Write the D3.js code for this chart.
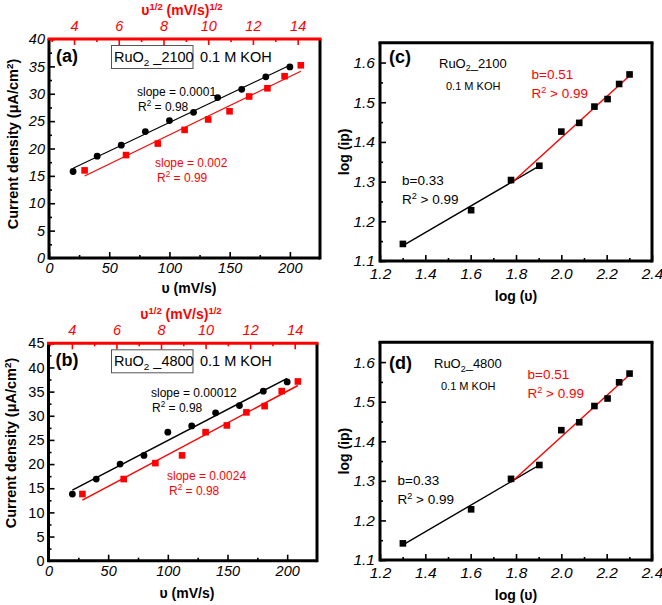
<!DOCTYPE html>
<html><head><meta charset="utf-8">
<script src="https://cdn.jsdelivr.net/npm/d3@7"></script>
<style>
body{margin:0;background:#fff;}
svg text{font-family:"Liberation Sans",Arial,Helvetica,sans-serif;}
</style></head><body>
<svg id="chart" width="662" height="605"></svg>
<script>
// ---------------- data ----------------
const scanRates = [20, 40, 60, 80, 100, 120, 140, 160, 180, 200];
const jA_black = [15.8, 18.6, 20.6, 23.1, 25.1, 26.6, 29.3, 30.8, 33.1, 34.9];
const jA_red   = [16.0, 18.8, 20.9, 23.4, 25.3, 26.8, 29.5, 31.0, 33.2, 35.2];
const jB_black = [13.8, 16.9, 20.0, 21.8, 26.6, 27.9, 30.6, 32.1, 35.1, 37.0];
const jB_red   = [13.8, 16.9, 20.2, 21.8, 26.6, 28.0, 30.7, 32.0, 35.1, 37.1];
const logScan  = [1.301, 1.602, 1.778, 1.903, 2.000, 2.079, 2.146, 2.204, 2.255, 2.301];
const logIpC   = [1.143, 1.228, 1.304, 1.340, 1.426, 1.448, 1.489, 1.508, 1.546, 1.570];
const logIpD   = [1.142, 1.228, 1.305, 1.340, 1.428, 1.448, 1.489, 1.508, 1.549, 1.571];

const scanTicks = [0, 50, 100, 150, 200];
const scanMinor = [25, 75, 125, 175];
const sqrtTicks = [4, 6, 8, 10, 12, 14];
const sqrtMinor = [3, 5, 7, 9, 11, 13];
const jTicksA = [0, 5, 10, 15, 20, 25, 30, 35, 40];
const jTicksB = [0, 5, 10, 15, 20, 25, 30, 35, 40, 45];
const logXTicks = [1.2, 1.4, 1.6, 1.8, 2.0, 2.2, 2.4];
const logXMinor = [1.3, 1.5, 1.7, 1.9, 2.1, 2.3];
const logYTicks = [1.1, 1.2, 1.3, 1.4, 1.5, 1.6];
const logYMinor = [1.15, 1.25, 1.35, 1.45, 1.55];

const RED = "#ff0000";
const svg = d3.select("#chart");

function fit(xs, ys) {
  const mx = d3.mean(xs), my = d3.mean(ys);
  const b = d3.sum(xs, (x, i) => (x - mx) * (ys[i] - my)) / d3.sum(xs, x => (x - mx) * (x - mx));
  return x => my + b * (x - mx);
}

// text with sub/superscripts: parts = [[str, "sup"|"sub"|null], ...]
function rich(g, x, y, parts, o) {
  const t = g.append("text").attr("x", x).attr("y", y)
    .attr("font-size", o.size).attr("fill", o.color || "#000")
    .attr("font-weight", o.weight || "normal")
    .attr("text-anchor", o.anchor || "start");
  if (o.transform) t.attr("transform", o.transform);
  let shift = 0;
  parts.forEach(([s, k]) => {
    const target = k === "sup" ? -0.38 * o.size : k === "sub" ? 0.25 * o.size : 0;
    const sp = t.append("tspan").text(s).attr("dy", target - shift);
    if (k) sp.attr("font-size", o.size * 0.68);
    shift = target;
  });
  return t;
}

function styleAxis(ax, color, italic, size) {
  ax.select(".domain").remove();
  ax.selectAll("line").attr("stroke", color).attr("stroke-width", 1.6);
  ax.selectAll("text").attr("fill", color).attr("font-size", size)
    .attr("font-style", italic ? "italic" : "normal").attr("font-family", '"Liberation Sans",Arial,sans-serif');
}

function frame(g, l, r, t, b, topColor) {
  const sw = 3;
  g.append("line").attr("x1", l).attr("x2", r).attr("y1", b).attr("y2", b).attr("stroke", "#000").attr("stroke-width", sw);
  g.append("line").attr("x1", l).attr("x2", l).attr("y1", t).attr("y2", b + 1.5).attr("stroke", "#000").attr("stroke-width", sw);
  g.append("line").attr("x1", r).attr("x2", r).attr("y1", t).attr("y2", b + 1.5).attr("stroke", "#000").attr("stroke-width", sw);
  g.append("line").attr("x1", l - 1.5).attr("x2", r + 1.5).attr("y1", t).attr("y2", t).attr("stroke", topColor).attr("stroke-width", sw);
}

// ---------------- panels (a), (b) ----------------
function cvPanel(p) {
  const g = svg.append("g");
  const x = d3.scaleLinear().domain([0, 225]).range([p.l, p.r]);
  const xt = d3.scaleLinear().domain(p.topDom).range([p.l, p.r]);
  const y = d3.scaleLinear().domain([0, p.yMax]).range([p.b, p.t]);
  const yMinor = p.yTicks.slice(0, -1).map((v, i) => (v + p.yTicks[i + 1]) / 2);

  // bottom axis
  let ax = g.append("g").attr("transform", `translate(0,${p.b})`)
    .call(d3.axisBottom(x).tickValues(scanTicks).tickSize(-6).tickPadding(5));
  styleAxis(ax, "#000", true, 14.5);
  ax = g.append("g").attr("transform", `translate(0,${p.b})`)
    .call(d3.axisBottom(x).tickValues(scanMinor).tickSize(-3).tickFormat(""));
  styleAxis(ax, "#000", true, 14);
  // left axis
  ax = g.append("g").attr("transform", `translate(${p.l},0)`)
    .call(d3.axisLeft(y).tickValues(p.yTicks).tickSize(-6).tickPadding(4));
  styleAxis(ax, "#000", p.yItalic, 14.5);
  ax = g.append("g").attr("transform", `translate(${p.l},0)`)
    .call(d3.axisLeft(y).tickValues(yMinor).tickSize(-3).tickFormat(""));
  styleAxis(ax, "#000", false, 14);
  // top axis (red)
  ax = g.append("g").attr("transform", `translate(0,${p.t})`)
    .call(d3.axisTop(xt).tickValues(sqrtTicks).tickSize(-6).tickPadding(8));
  styleAxis(ax, RED, true, 14.5);
  ax = g.append("g").attr("transform", `translate(0,${p.t})`)
    .call(d3.axisTop(xt).tickValues(sqrtMinor).tickSize(-3).tickFormat(""));
  styleAxis(ax, RED, true, 14);

  // fits
  const sq = scanRates.map(Math.sqrt);
  const fb = fit(scanRates, p.black), fr = fit(sq, p.red);
  const x0 = d3.min(scanRates), x1 = d3.max(scanRates);
  g.append("line").attr("x1", x(x0)).attr("x2", x(x1)).attr("y1", y(fb(x0))).attr("y2", y(fb(x1)))
    .attr("stroke", "#000").attr("stroke-width", p.lw);
  g.append("line").attr("x1", xt(Math.sqrt(x0))).attr("x2", xt(Math.sqrt(x1)))
    .attr("y1", y(fr(Math.sqrt(x0)))).attr("y2", y(fr(Math.sqrt(x1))))
    .attr("stroke", RED).attr("stroke-width", p.lw);

  // points
  g.selectAll(null).data(scanRates).join("circle")
    .attr("cx", d => x(d)).attr("cy", (d, i) => y(p.black[i])).attr("r", 3.4).attr("fill", "#000");
  g.selectAll(null).data(sq).join("rect")
    .attr("x", d => xt(d) - 3.3).attr("y", (d, i) => y(p.red[i]) - 3.3)
    .attr("width", 6.6).attr("height", 6.6).attr("fill", RED);

  frame(g, p.l, p.r, p.t, p.b, RED);

  // titles
  rich(g, p.xTitleX, p.b + p.xTitleDy, [["υ (mV/s)", null]], { size: 14, weight: "bold", anchor: "middle" });
  rich(g, p.topTitleX, p.t - 24, [["υ", null], ["1/2", "sup"], [" (mV/s)", null], ["1/2", "sup"]],
    { size: 14, weight: "bold", anchor: "middle", color: RED });
  rich(g, 0, 0, [["Current density (μA/cm", null], ["2", "sup"], [")", null]],
    { size: 14.5, weight: "bold", anchor: "middle", transform: `translate(${p.yTitleX},${p.yTitleY}) rotate(-90)` });

  // annotations
  g.append("text").attr("x", p.l + 7).attr("y", p.t + 23).attr("font-size", 18).attr("font-weight", "bold").text(p.label);
  g.append("rect").attr("x", 111.5).attr("y", p.t + 6.5).attr("width", 81.5).attr("height", 23)
    .attr("fill", "none").attr("stroke", "#555").attr("stroke-width", 1);
  rich(g, 114, p.t + 23, [["RuO", null], ["2", "sub"], [" _" + p.code, null]], { size: 14.5 });
  rich(g, 200, p.t + 23, [["0.1 M KOH", null]], { size: 14.5 });
  rich(g, p.sbX, p.sbY, [[p.sbText, null]], { size: 12 });
  rich(g, p.sbX + 1, p.sbY + 15, [["R", null], ["2", "sup"], [" = " + p.rb, null]], { size: 12 });
  rich(g, p.srX, p.srY, [[p.srText, null]], { size: 12, color: RED });
  rich(g, p.srX + 2, p.srY + 15, [["R", null], ["2", "sup"], [" = " + p.rr, null]], { size: 12, color: RED });
}

cvPanel({
  l: 49, r: 320, t: 39, b: 258, yMax: 40, yTicks: jTicksA, yItalic: true, topDom: [2.88, 15.0],
  black: jA_black, red: jA_red, lw: 1.1, label: "(a)", code: "2100",
  xTitleX: 189, xTitleDy: 35, topTitleX: 182, yTitleX: 18, yTitleY: 144,
  sbX: 137, sbY: 96, sbText: "slope = 0.0001", rb: "0.98",
  srX: 155, srY: 167, srText: "slope = 0.002", rr: "0.99"
});
cvPanel({
  l: 48.5, r: 317, t: 343.3, b: 560.7, yMax: 45, yTicks: jTicksB, yItalic: false, topDom: [2.95, 15.0],
  black: jB_black, red: jB_red, lw: 1.5, label: "(b)", code: "4800",
  xTitleX: 187, xTitleDy: 37, topTitleX: 181, yTitleX: 16, yTitleY: 443,
  sbX: 151, sbY: 397, sbText: "slope = 0.00012", rb: "0.98",
  srX: 167, srY: 480, srText: "slope = 0.0024", rr: "0.98"
});

// ---------------- panels (c), (d) ----------------
function logPanel(p) {
  const g = svg.append("g");
  const x = d3.scaleLinear().domain([1.2, 2.4]).range([p.l, p.r]);
  const y = d3.scaleLinear().domain([1.1, 1.65]).range([p.b, p.t]);
  const fmt = d3.format(".1f");

  let ax = g.append("g").attr("transform", `translate(0,${p.b})`)
    .call(d3.axisBottom(x).tickValues(logXTicks).tickFormat(fmt).tickSize(-6).tickPadding(7));
  styleAxis(ax, "#000", true, 15.5);
  ax = g.append("g").attr("transform", `translate(0,${p.b})`)
    .call(d3.axisBottom(x).tickValues(logXMinor).tickSize(-3).tickFormat(""));
  styleAxis(ax, "#000", true, 15);
  ax = g.append("g").attr("transform", `translate(${p.l},0)`)
    .call(d3.axisLeft(y).tickValues(logYTicks).tickFormat(fmt).tickSize(-6).tickPadding(5));
  styleAxis(ax, "#000", true, 15.5);
  ax = g.append("g").attr("transform", `translate(${p.l},0)`)
    .call(d3.axisLeft(y).tickValues(logYMinor).tickSize(-3).tickFormat(""));
  styleAxis(ax, "#000", true, 15);

  // fits: low-rate segment (first 4 points), high-rate segment (from 3rd point on)
  const xsL = logScan.slice(0, 4), ysL = p.ip.slice(0, 4);
  const xsH = logScan.slice(2), ysH = p.ip.slice(2);
  const fl = fit(xsL, ysL), fh = fit(xsH, ysH);
  g.append("line").attr("x1", x(xsL[0])).attr("x2", x(xsL[3])).attr("y1", y(fl(xsL[0]))).attr("y2", y(fl(xsL[3])))
    .attr("stroke", "#000").attr("stroke-width", 1.4);
  const h0 = xsH[0], h1 = xsH[xsH.length - 1];
  g.append("line").attr("x1", x(h0)).attr("x2", x(h1)).attr("y1", y(fh(h0))).attr("y2", y(fh(h1)))
    .attr("stroke", RED).attr("stroke-width", 1.4);

  g.selectAll(null).data(logScan).join("rect")
    .attr("x", d => x(d) - 3.3).attr("y", (d, i) => y(p.ip[i]) - 3.3)
    .attr("width", 6.6).attr("height", 6.6).attr("fill", "#000");

  frame(g, p.l, p.r, p.t, p.b, "#000");

  rich(g, (p.l + p.r) / 2, p.b + 40, [["log (υ)", null]], { size: 14, weight: "bold", anchor: "middle" });
  rich(g, 0, 0, [["log (ip)", null]], { size: 14, weight: "bold", anchor: "middle",
    transform: `translate(${p.l - 31},${(p.t + p.b) / 2}) rotate(-90)` });

  g.append("text").attr("x", p.l + 9).attr("y", p.t + p.labDy).attr("font-size", 18).attr("font-weight", "bold").text(p.label);
  rich(g, p.codeX, p.t + p.codeDy, [["RuO", null], ["2", "sub"], ["_" + p.code, null]], { size: 13 });
  rich(g, p.codeX + 7, p.t + p.codeDy + 22, [["0.1 M KOH", null]], { size: 11 });
  rich(g, p.bhX, p.t + p.bhDy, [["b=0.51", null]], { size: 13.5, color: RED });
  rich(g, p.bhX, p.t + p.bhDy + 19, [["R", null], ["2", "sup"], [" > 0.99", null]], { size: 13.5, color: RED });
  rich(g, p.blX, p.blY, [["b=0.33", null]], { size: 13.5 });
  rich(g, p.blX, p.blY + 19, [["R", null], ["2", "sup"], [" > 0.99", null]], { size: 13.5 });
}

logPanel({ l: 380, r: 652, t: 42.7, b: 261, ip: logIpC, label: "(c)", code: "2100",
  labDy: 20, codeX: 439, codeDy: 25, bhX: 531.5, bhDy: 36, blX: 402, blY: 185 });
logPanel({ l: 380, r: 652, t: 342.3, b: 560, ip: logIpD, label: "(d)", code: "4800",
  labDy: 27, codeX: 434, codeDy: 26, bhX: 527.5, bhDy: 37, blX: 397.5, blY: 485 });
</script>
</body></html>
